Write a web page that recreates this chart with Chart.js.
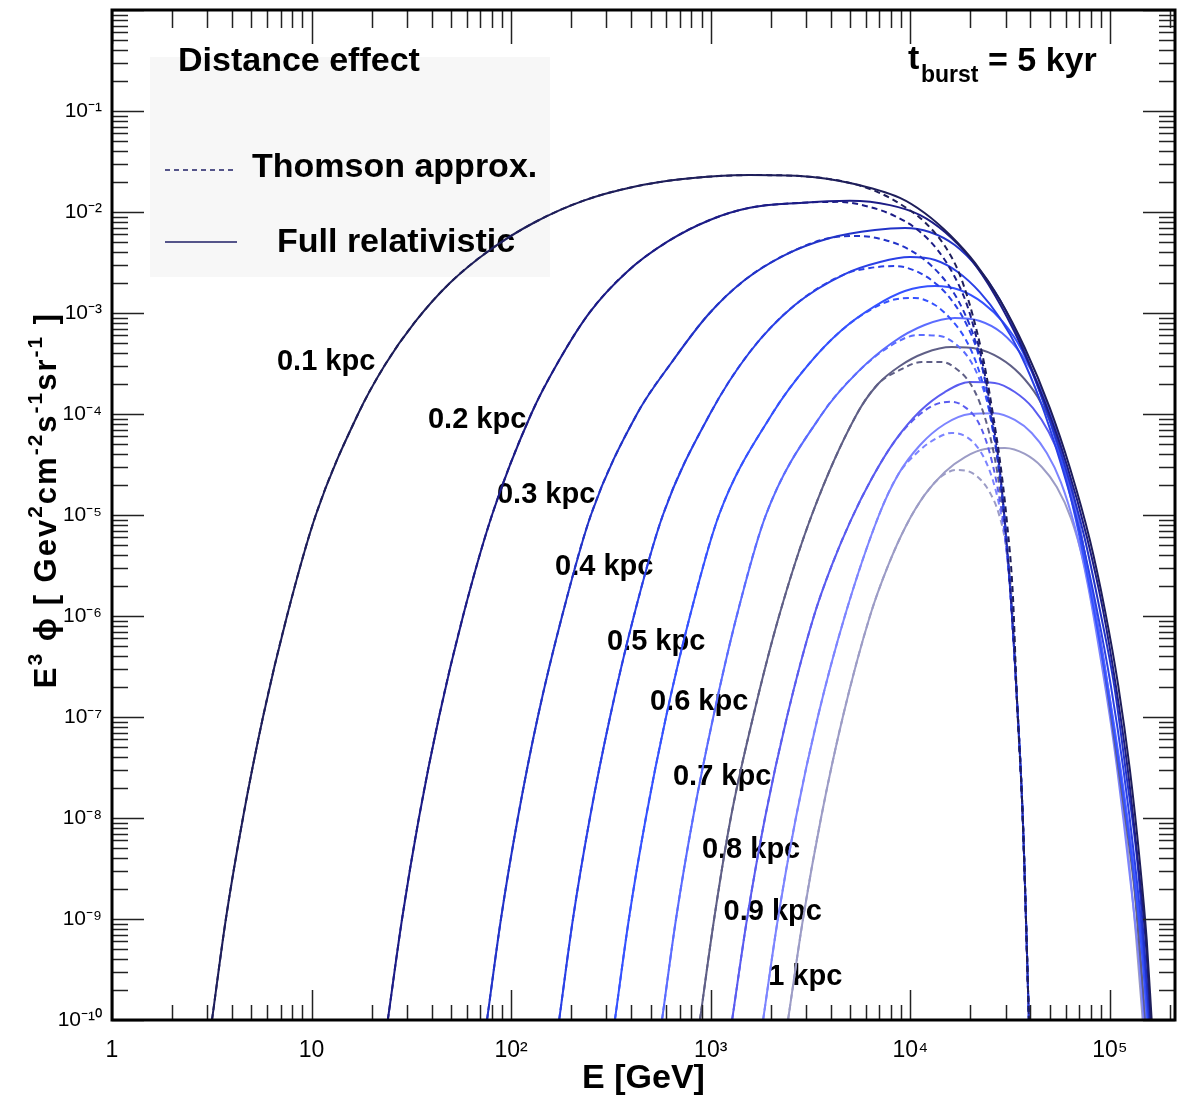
<!DOCTYPE html>
<html>
<head>
<meta charset="utf-8">
<title>Distance effect</title>
<script src="https://cdn.jsdelivr.net/npm/chart.js@4.4.1/dist/chart.umd.min.js"></script>
<style>
  html, body { margin: 0; padding: 0; background: #fff; }
  #wrap { width: 1189px; height: 1102px; position: relative; }
</style>
</head>
<body>
<div id="wrap"><canvas id="spectrum"></canvas></div>
<script>
// Distances of the burst source
const distances = ['0.1 kpc', '0.2 kpc', '0.3 kpc', '0.4 kpc', '0.5 kpc',
                   '0.6 kpc', '0.7 kpc', '0.8 kpc', '0.9 kpc', '1 kpc'];

// Rising part, same for both models: [E (GeV), E^3 phi]
const rise01 = [[3.17,1e-10],[3.72,1e-9],[4.53,1e-8],[5.71,1e-7],[7.53,1e-6],[10.5,1e-5],[17.1,1e-4],[23.3,3.05e-4],[33.0,8.15e-4],[49.3,1.98e-3],[78.3,4.21e-3],[132,7.96e-3],[229,1.29e-2],[408,1.77e-2],[726,2.12e-2],[1570,2.32e-2],[2800,2.27e-2],[4980,1.94e-2]];
const rise02 = [[24.1,1e-10],[28.4,1e-9],[34.5,1e-8],[43.5,1e-7],[57.4,1e-6],[80.2,1e-5],[126,1e-4],[172,3.27e-4],[248,1.02e-3],[380,2.55e-3],[604,5.05e-3],[991,8.34e-3],[1570,1.10e-2],[2800,1.23e-2]];
const rise03 = [[75.7,1e-10],[88.9,1e-9],[108,1e-8],[136,1e-7],[180,1e-6],[251,1e-5],[427,1e-4],[639,3.27e-4],[968,9.55e-4],[1480,2.12e-3],[2350,3.75e-3],[3960,5.53e-3]];
const rise04 = [[174,1e-10],[204,1e-9],[248,1e-8],[313,1e-7],[412,1e-6],[576,1e-5],[991,1e-4],[1570,4.11e-4],[2640,1.20e-3],[4700,2.43e-3]];
const rise05 = [[331,1e-10],[389,1e-9],[473,1e-8],[597,1e-7],[787,1e-6],[1100,1e-5],[2030,1e-4],[3070,3.05e-4],[4540,6.79e-4]];
const rise06 = [[570,1e-10],[670,1e-9],[815,1e-8],[1030,1e-7],[1350,1e-6],[1890,1e-5],[3610,1e-4],[5460,2.61e-4]];
const rise07 = [[883,1e-10],[1040,1e-9],[1260,1e-8],[1630,1e-7],[2200,1e-6],[3210,1e-5],[5400,1e-4],[6890,1.98e-4]];
const rise08 = [[1280,1e-10],[1520,1e-9],[1870,1e-8],[2410,1e-7],[3290,1e-6],[4050,3.20e-6],[5040,8.91e-6],[6430,2.32e-5],[8370,5.41e-5]];
const rise09 = [[1830,1e-10],[2170,1e-9],[2670,1e-8],[3440,1e-7],[4700,1e-6],[6970,1e-5],[8670,2.49e-5]];
const rise10 = [[2440,1e-10],[2900,1e-9],[3570,1e-8],[4590,1e-7],[6280,1e-6],[7730,3.13e-6],[9510,7.78e-6],[11800,1.58e-5]];

// High energy side, full relativistic losses
const full01 = [[8870,1.38e-2],[11800,9.77e-3],[15800,5.92e-3],[21100,3.13e-3],[28100,1.35e-3],[37500,4.50e-4],[50000,1.15e-4],[63100,2.92e-5],[79400,5.65e-6],[94400,1.15e-6],[110000,2.08e-7],[126000,2.99e-8],[141000,3.84e-9],[153000,6.19e-10],[162000,1e-10]];
const full02 = [[4980,1.29e-2],[7910,1.17e-2],[11200,9.33e-3],[14900,6.34e-3],[19900,3.51e-3],[26500,1.51e-3],[35400,5.05e-4],[47200,1.32e-4],[60900,3.13e-5],[76700,6.05e-6],[92300,1.15e-6],[107000,2.08e-7],[123000,2.99e-8],[138000,3.84e-9],[151000,6.19e-10],[160000,1e-10]];
const full03 = [[6650,6.64e-3],[9400,6.95e-3],[12500,6.34e-3],[16700,4.71e-3],[21800,2.79e-3],[28100,1.35e-3],[36200,4.82e-4],[46100,1.38e-4],[58900,3.27e-5],[74100,6.34e-6],[89100,1.15e-6],[105000,2.08e-7],[120000,2.99e-8],[137000,3.84e-9],[148000,6.19e-10],[158000,1e-10]];
const full04 = [[7050,3.20e-3],[9950,3.58e-3],[13300,3.35e-3],[17300,2.55e-3],[22300,1.61e-3],[28100,8.91e-4],[35400,4.02e-4],[44600,1.38e-4],[56100,3.51e-5],[70800,6.79e-6],[86100,1.15e-6],[101000,2.08e-7],[117000,2.99e-8],[133000,3.84e-9],[146000,6.19e-10],[157000,1e-10]];
const full05 = [[6650,1.17e-3],[9400,1.65e-3],[13300,1.85e-3],[17700,1.69e-3],[23100,1.26e-3],[29100,8.15e-4],[36200,4.31e-4],[44600,1.65e-4],[54800,4.71e-5],[67600,8.91e-6],[82200,1.29e-6],[96600,2.08e-7],[112000,2.99e-8],[129000,3.84e-9],[143000,6.19e-10],[155000,1e-10]];
const full06 = [[8090,5.05e-4],[11800,7.60e-4],[16700,8.91e-4],[22300,8.34e-4],[28800,6.34e-4],[36200,3.84e-4],[44600,1.85e-4],[54200,6.64e-5],[64500,1.77e-5],[76700,3.20e-6],[90200,5.16e-7],[105000,8.34e-8],[120000,1.35e-8],[135000,2.17e-9],[145000,4.93e-10],[153000,1e-10]];
const full07 = [[8870,2.99e-4],[11800,4.02e-4],[16100,4.60e-4],[21800,4.41e-4],[28100,3.58e-4],[35400,2.49e-4],[43500,1.47e-4],[52400,6.95e-5],[62300,2.49e-5],[74100,4.50e-6],[88100,6.49e-7],[102000,9.33e-8],[117000,1.35e-8],[132000,2.17e-9],[141000,4.93e-10],[151000,1e-10]];
const full08 = [[11200,1.07e-4],[14900,1.65e-4],[19900,2.07e-4],[26500,2.03e-4],[33400,1.65e-4],[41100,1.15e-4],[49400,6.64e-5],[58200,3.13e-5],[68400,1.00e-5],[79400,2.27e-6],[93300,3.66e-7],[107000,5.92e-8],[122000,9.55e-9],[135000,1.54e-9],[143000,3.93e-10],[150000,1e-10]];
const full09 = [[11200,4.93e-5],[14900,7.96e-5],[19900,1.00e-4],[26500,1.02e-4],[33400,8.73e-5],[40600,6.49e-5],[48300,4.11e-5],[56800,2.12e-5],[66800,7.60e-6],[77600,2.03e-6],[90200,3.66e-7],[104000,5.92e-8],[117000,9.55e-9],[130000,1.54e-9],[140000,3.93e-10],[148000,1e-10]];
const full10 = [[14900,2.67e-5],[18800,3.75e-5],[23700,4.50e-5],[29800,4.60e-5],[37500,4.02e-5],[45600,2.99e-5],[54200,1.89e-5],[63800,9.33e-6],[74100,3.35e-6],[85100,8.15e-7],[96600,1.85e-7],[110000,2.99e-8],[123000,4.82e-9],[135000,6.95e-10],[146000,1e-10]];

// High energy side, Thomson approximation
const thom01 = [[7050,1.54e-2],[9400,1.12e-2],[11800,7.96e-3],[14900,4.60e-3],[17300,2.67e-3],[19400,1.41e-3],[21600,6.49e-4],[23700,2.85e-4],[25900,1.02e-4],[28100,3.51e-5],[30500,8.53e-6],[32700,1.54e-6]];
const thom02 = [[4440,1.26e-2],[6280,1.12e-2],[8370,9.12e-3],[10900,6.64e-3],[13700,4.21e-3],[16500,2.38e-3],[19000,1.29e-3],[21300,6.05e-4],[23400,2.73e-4],[25600,9.77e-5],[27800,3.35e-5],[29800,8.34e-6],[31900,1.51e-6]];
const thom03 = [[5590,5.78e-3],[7460,5.28e-3],[9950,4.21e-3],[12800,2.92e-3],[15800,1.81e-3],[18600,1.02e-3],[21100,5.41e-4],[23400,2.43e-4],[25300,9.77e-5],[27500,3.35e-5],[29800,8.34e-6],[31900,1.51e-6]];
const thom04 = [[6280,2.79e-3],[8370,2.92e-3],[10900,2.55e-3],[13700,1.89e-3],[16500,1.26e-3],[19200,7.60e-4],[21600,4.31e-4],[23700,2.17e-4],[25600,9.12e-5],[27500,3.35e-5],[29800,8.34e-6],[31900,1.51e-6]];
const thom05 = [[6280,1.07e-3],[8180,1.35e-3],[10500,1.41e-3],[13300,1.20e-3],[16100,8.53e-4],[19000,5.41e-4],[21600,3.05e-4],[23900,1.54e-4],[25900,6.95e-5],[27800,2.92e-5],[29800,8.34e-6],[31900,1.51e-6]];
const thom06 = [[8090,4.82e-4],[10900,6.05e-4],[14100,5.92e-4],[17100,4.82e-4],[19900,3.43e-4],[22300,2.17e-4],[24500,1.23e-4],[26200,6.19e-5],[28100,2.79e-5],[29800,8.34e-6],[31900,1.51e-6]];
const thom07 = [[8870,2.73e-4],[11400,3.27e-4],[14400,3.27e-4],[17300,2.73e-4],[19900,2.03e-4],[22300,1.29e-4],[24500,7.26e-5],[26500,3.66e-5],[28400,1.58e-5],[30500,5.05e-6],[32300,1.15e-6]];
const thom08 = [[10900,9.55e-5],[13600,1.26e-4],[16300,1.32e-4],[19000,1.15e-4],[21600,8.73e-5],[23900,5.53e-5],[25900,3.13e-5],[27800,1.58e-5],[29800,6.34e-6],[31900,1.51e-6]];
const thom09 = [[10900,4.21e-5],[13600,5.78e-5],[16100,6.49e-5],[18800,6.05e-5],[21300,4.93e-5],[23700,3.51e-5],[25900,2.22e-5],[28100,1.17e-5],[30100,5.05e-6],[31900,1.44e-6]];
const thom10 = [[14400,2.43e-5],[17100,2.79e-5],[19900,2.67e-5],[22600,2.22e-5],[25300,1.61e-5],[27800,1.02e-5],[30100,5.05e-6],[32300,1.44e-6]];
// Common sharp Thomson cut-off
const thomCutoff = [[34200,1.54e-7],[36600,1e-8],[39300,1e-10]];

// Where each distance label starts: [E, E^3 phi]
const labelAnchors = [[6.71,3.27e-4],[38.3,8.73e-5],[84.9,1.58e-5],[166,3.05e-6],[302,5.53e-7],
                      [496,1.41e-7],[647,2.55e-8],[903,4.82e-9],[1160,1.17e-9],[1940,2.67e-10]];

// Axis ticks
const xTickValues = [1, 10, 100, 1000, 10000, 100000];
const xTickLabels = ['1', '10', '10²', '10³', '10⁴', '10⁵'];
const yTickValues = [1e-10, 1e-9, 1e-8, 1e-7, 1e-6, 1e-5, 1e-4, 1e-3, 1e-2, 1e-1];
const yTickLabels = ['10⁻¹⁰', '10⁻⁹', '10⁻⁸', '10⁻⁷', '10⁻⁶', '10⁻⁵', '10⁻⁴', '10⁻³', '10⁻²', '10⁻¹'];

const riseSets = [rise01, rise02, rise03, rise04, rise05, rise06, rise07, rise08, rise09, rise10];
const fullSets = [full01, full02, full03, full04, full05, full06, full07, full08, full09, full10];
const thomSets = [thom01, thom02, thom03, thom04, thom05, thom06, thom07, thom08, thom09, thom10];

const lineColors = ['#1e1e5a', '#1c1c86', '#2233c8', '#2a40e6', '#3552ff',
                    '#5b6cff', '#5f5f86', '#5a5cf0', '#7c84ff', '#9c9cc6'];

const FONT = '"Liberation Sans", Arial, Helvetica, sans-serif';

function toPoints(pairs) {
    return pairs.map(([e, f]) => ({ x: e, y: f }));
}

// Собираем наборы данных: сплошная (полный расчёт) и пунктир (Томсон)
const datasets = [];
distances.forEach((name, i) => {
    datasets.push({
        label: name + ' full',
        data: toPoints(riseSets[i].concat(fullSets[i])),
        borderColor: lineColors[i],
        borderWidth: 2,
        pointRadius: 0,
        cubicInterpolationMode: 'monotone',
        fill: false
    });
    datasets.push({
        label: name + ' Thomson',
        data: toPoints(riseSets[i].concat(thomSets[i], thomCutoff)),
        borderColor: lineColors[i],
        borderWidth: 2,
        borderDash: [6, 4],
        pointRadius: 0,
        cubicInterpolationMode: 'monotone',
        fill: false
    });
});

// Рамка и засечки внутрь, как в ROOT
const frameTicks = {
    id: 'frameTicks',
    afterDraw(chart) {
        const { ctx, chartArea: a, scales: { x, y } } = chart;
        ctx.save();
        ctx.strokeStyle = '#222';
        ctx.lineWidth = 1.5;
        ctx.beginPath();
        for (let p = 0; p <= 5; p++) {
            for (let m = 1; m <= 9; m++) {
                const v = m * Math.pow(10, p);
                if (v < x.min || v > x.max) continue;
                const px = Math.round(x.getPixelForValue(v)) + 0.5;
                ctx.moveTo(px, a.bottom);
                ctx.lineTo(px, a.bottom - (m === 1 ? 30 : 15));
                ctx.moveTo(px, a.top);
                ctx.lineTo(px, a.top + (m === 1 ? 34 : 18));
            }
        }
        for (let p = -10; p <= 0; p++) {
            for (let m = 1; m <= 9; m++) {
                const v = m * Math.pow(10, p);
                if (v < y.min || v > y.max) continue;
                const py = Math.round(y.getPixelForValue(v)) + 0.5;
                const len = m === 1 ? 32 : 16;
                ctx.moveTo(a.left, py);
                ctx.lineTo(a.left + len, py);
                ctx.moveTo(a.right, py);
                ctx.lineTo(a.right - len, py);
            }
        }
        ctx.stroke();
        ctx.lineWidth = 3;
        ctx.strokeStyle = '#000';
        ctx.strokeRect(a.left, a.top, a.right - a.left, a.bottom - a.top);

        // Подпись оси Y с верхними индексами
        const parts = [['E', 0], ['3', 1], [' ϕ', 0], [' [ ', 0], ['Gev', 0], ['2', 1], ['cm', 0],
                       ['-2', 1], ['s', 0], ['-1', 1], ['sr', 0], ['-1', 1], [' ]', 0]];
        const bigFont = 'bold 31px ' + FONT;
        const supFont = 'bold 21px ' + FONT;
        ctx.fillStyle = '#000';
        ctx.textBaseline = 'middle';
        ctx.textAlign = 'left';
        if ('letterSpacing' in ctx) ctx.letterSpacing = '2px';
        let total = 0;
        parts.forEach(([t, sup]) => {
            ctx.font = sup ? supFont : bigFont;
            total += ctx.measureText(t).width;
        });
        ctx.translate(47, (a.top + a.bottom) / 2 - 15);
        ctx.rotate(-Math.PI / 2);
        let cx = -total / 2;
        parts.forEach(([t, sup]) => {
            ctx.font = sup ? supFont : bigFont;
            ctx.fillText(t, cx, sup ? -11 : 0);
            cx += ctx.measureText(t).width;
        });
        ctx.restore();
    }
};

// Легенда, подписи расстояний и t_burst
const annotations = {
    id: 'annotations',
    beforeDatasetsDraw(chart) {
        const { ctx, chartArea: a, scales: { x, y } } = chart;
        ctx.save();
        ctx.fillStyle = '#f7f7f7';
        ctx.fillRect(a.left + 38, a.top + 47, 400, 220);

        ctx.fillStyle = '#000';
        ctx.textBaseline = 'middle';
        ctx.textAlign = 'left';
        ctx.font = 'bold 34px ' + FONT;
        ctx.fillText('Distance effect', a.left + 66, a.top + 52);
        ctx.fillText('Thomson approx.', a.left + 140, a.top + 158);
        ctx.fillText('Full relativistic', a.left + 165, a.top + 233);

        ctx.strokeStyle = '#55558a';
        ctx.lineWidth = 2;
        ctx.beginPath();
        ctx.setLineDash([5, 4]);
        ctx.moveTo(a.left + 53, a.top + 160);
        ctx.lineTo(a.left + 122, a.top + 160);
        ctx.stroke();
        ctx.beginPath();
        ctx.setLineDash([]);
        ctx.moveTo(a.left + 53, a.top + 232);
        ctx.lineTo(a.left + 125, a.top + 232);
        ctx.stroke();

        // t_burst = 5 kyr
        ctx.font = 'bold 34px ' + FONT;
        ctx.fillText('t', a.left + 796, a.top + 50);
        ctx.font = 'bold 23px ' + FONT;
        ctx.fillText('burst', a.left + 809, a.top + 66);
        ctx.font = 'bold 34px ' + FONT;
        ctx.fillText('= 5 kyr', a.left + 876, a.top + 52);

        ctx.font = 'bold 29px ' + FONT;
        distances.forEach((name, i) => {
            const [e, f] = labelAnchors[i];
            ctx.fillText(name, x.getPixelForValue(e), y.getPixelForValue(f));
        });
        ctx.restore();
    }
};

const ctx = document.getElementById('spectrum').getContext('2d');
const spectrumChart = new Chart(ctx, {
    type: 'line',
    data: { datasets: datasets },
    options: {
        responsive: true,
        maintainAspectRatio: false,
        animation: false,
        devicePixelRatio: 1,
        layout: { padding: { left: 0, right: 14, top: 10, bottom: 0 } },
        plugins: {
            legend: { display: false },
            tooltip: { enabled: false }
        },
        scales: {
            x: {
                type: 'logarithmic',
                position: 'bottom',
                min: 1,
                max: 2.12e5,
                grid: { display: false, drawTicks: false },
                border: { display: false },
                afterBuildTicks: scale => {
                    scale.ticks = xTickValues.map(v => ({ value: v }));
                },
                afterFit: scale => {
                    scale.height = 82;
                    scale.paddingLeft = 0;
                    scale.paddingRight = 0;
                },
                ticks: {
                    autoSkip: false,
                    maxRotation: 0,
                    padding: 17,
                    color: '#000',
                    font: { family: FONT, size: 23 },
                    callback: (v, i) => xTickLabels[i]
                },
                title: {
                    display: true,
                    text: 'E [GeV]',
                    color: '#000',
                    font: { family: FONT, size: 34, weight: 'bold' },
                    padding: { top: 0, bottom: 3 }
                }
            },
            y: {
                type: 'logarithmic',
                min: 1e-10,
                max: 1,
                grid: { display: false, drawTicks: false },
                border: { display: false },
                afterBuildTicks: scale => {
                    scale.ticks = yTickValues.map(v => ({ value: v }));
                },
                afterFit: scale => {
                    scale.width = 112;
                    scale.paddingTop = 0;
                    scale.paddingBottom = 0;
                },
                ticks: {
                    autoSkip: false,
                    padding: 10,
                    color: '#000',
                    font: { family: FONT, size: 21 },
                    callback: (v, i) => yTickLabels[i]
                },
                title: { display: false }
            }
        }
    },
    plugins: [annotations, frameTicks]
});
</script>
</body>
</html>
